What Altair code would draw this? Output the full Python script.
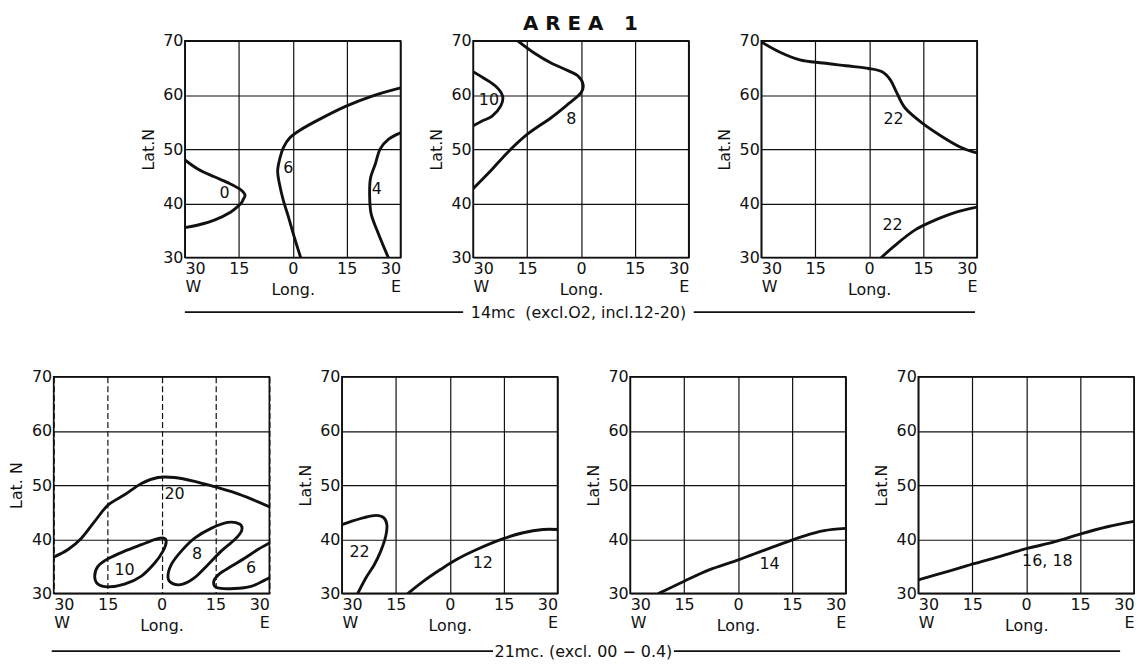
import altair as alt
import pandas as pd

FONT = "DejaVu Sans"
W, H = 217, 218
INK = "#111111"

# ---------------- Panel 1 (14mc) ----------------
p1_zero_lon = [-30, -26.3, -21.8, -17.7, -14.9, -13.3, -13.8, -14.5, -17.2, -21.8, -26.3, -30]
p1_zero_lat = [48.0, 46.3, 44.9, 43.7, 42.7, 41.6, 40.7, 39.9, 38.4, 36.9, 36.0, 35.5]
p1_six_lon = [30, 22.1, 14.7, 7.4, 2.0, -0.8, -2.6, -3.5, -4.2, -3.7, -2.6, -1.2, 0.1, 1.1, 2.2]
p1_six_lat = [61.3, 59.8, 57.9, 55.5, 53.5, 52.1, 50.3, 48.5, 46.0, 43.6, 40.5, 37.5, 34.5, 32.3, 30.0]
p1_four_lon = [30, 26.6, 24.3, 23.0, 21.6, 21.4, 21.8, 23.4, 25.3, 26.6]
p1_four_lat = [53.0, 51.8, 50.0, 47.3, 44.5, 41.2, 38.1, 35.1, 32.0, 30.0]
p1_lbl_text = ["0", "6", "4"]
p1_lbl_lon = [-19.0, -1.2, 23.4]
p1_lbl_lat = [41.9, 46.6, 42.7]

# ---------------- Panel 2 ----------------
p2_ten_lon = [-30, -27.0, -23.7, -21.8, -22.3, -24.7, -27.5, -30]
p2_ten_lat = [64.3, 63.1, 61.6, 59.8, 58.0, 56.1, 55.2, 54.3]
p2_eight_lon = [-17.6, -12.9, -8.3, -3.6, -0.8, 0.6, 0.0, -3.6, -8.3, -14.8, -20.4, -25.1, -30]
p2_eight_lat = [70.0, 67.7, 65.9, 64.5, 63.5, 61.9, 60.4, 58.3, 55.8, 52.8, 49.4, 46.0, 42.7]
p2_lbl_text = ["10", "8"]
p2_lbl_lon = [-25.6, -2.7]
p2_lbl_lat = [59.1, 55.5]

# ---------------- Panel 3 ----------------
p3_upper_lon = [-30, -24.8, -19.3, -12.9, -6.5, -0.1, 3.6, 5.9, 7.7, 10.0, 14.6, 20.1, 25.6, 30]
p3_upper_lat = [69.8, 67.9, 66.5, 65.9, 65.4, 64.9, 64.3, 62.8, 60.4, 57.6, 54.9, 52.4, 50.3, 49.3]
p3_lower_lon = [3.4, 7.3, 12.8, 18.3, 23.8, 30]
p3_lower_lat = [30.0, 32.3, 35.1, 36.9, 38.3, 39.3]
p3_lbl_text = ["22", "22"]
p3_lbl_lon = [6.8, 6.5]
p3_lbl_lat = [55.5, 35.9]

# ---------------- Panel 4 (21mc) ----------------
p4_twenty_lon = [-30, -26.0, -22.3, -18.6, -14.9, -10.3, -5.6, -1.0, 3.6, 9.2, 14.7, 20.3, 25.8, 30]
p4_twenty_lat = [36.7, 38.1, 40.2, 43.3, 46.3, 48.2, 50.3, 51.4, 51.4, 50.7, 49.7, 48.6, 47.2, 46.0]
p4_ten_lon = [-18.6, -17.7, -14.9, -10.3, -5.6, -1.5, 0.6, 1.3, 0.4, -1.9, -5.6, -10.3, -14.9, -17.7]
p4_ten_lat = [33.2, 35.0, 36.4, 37.8, 39.0, 40.0, 40.2, 39.5, 37.8, 35.6, 33.2, 31.7, 31.2, 31.7]
p4_eight_lon = [1.8, 2.7, 5.5, 9.2, 13.8, 18.4, 21.7, 22.3, 20.3, 16.6, 12.9, 9.2, 5.9, 3.1]
p4_eight_lat = [32.9, 35.3, 37.8, 40.2, 42.0, 43.1, 42.8, 41.6, 39.9, 37.8, 35.3, 32.9, 31.7, 31.8]
p4_six_lon = [30, 26.8, 23.1, 19.4, 16.1, 14.5, 15.6, 20.3, 24.9, 28.6, 30]
p4_six_lat = [39.3, 38.1, 36.5, 35.0, 33.6, 32.1, 31.0, 30.9, 31.3, 32.4, 32.9]
p4_lbl_text = ["20", "10", "8", "6"]
p4_lbl_lon = [3.6, -10.3, 9.9, 24.9]
p4_lbl_lat = [48.3, 34.3, 37.3, 34.6]

# ---------------- Panel 5 ----------------
p5_22_lon = [-30, -27.4, -23.8, -20.5, -18.4, -17.5, -17.8, -19.2, -21.0, -23.3, -25.6]
p5_22_lat = [42.7, 43.3, 44.0, 44.4, 44.0, 42.7, 40.6, 37.8, 35.3, 32.9, 30.0]
p5_12_lon = [-11.6, -7.2, -2.6, 2.0, 7.5, 14.9, 20.4, 25.9, 30]
p5_12_lat = [30.0, 32.3, 34.4, 36.3, 38.1, 40.1, 41.2, 41.8, 41.8]
p5_lbl_text = ["22", "12"]
p5_lbl_lon = [-25.1, 9.2]
p5_lbl_lat = [37.7, 35.6]

# ---------------- Panel 6 ----------------
p6_14_lon = [-22.0, -15.1, -8.2, 0.1, 7.4, 14.8, 19.4, 24.0, 30]
p6_14_lat = [30.0, 32.2, 34.3, 36.2, 38.0, 39.8, 40.8, 41.6, 42.0]
p6_lbl_text = ["14"]
p6_lbl_lon = [8.8]
p6_lbl_lat = [35.4]

# ---------------- Panel 7 ----------------
p7_1618_lon = [-30, -21.0, -14.5, -8.0, 0.3, 7.8, 15.2, 22.6, 30]
p7_1618_lat = [32.5, 34.2, 35.5, 36.7, 38.3, 39.5, 41.0, 42.3, 43.3]
p7_lbl_text = ["16, 18"]
p7_lbl_lon = [5.9]
p7_lbl_lat = [36.0]

lon_ticks = [-30, -15, 0, 15, 30]
lat_ticks = [30, 40, 50, 60, 70]

NB = "\u00a0"
TITLE_TEXT = NB.join(["A", "R", "E", "A", NB, "1"])
CAPTION_TOP = "14mc" + NB + NB + "(excl.O2, incl.12-20)"
CAPTION_BOTTOM = "21mc. (excl. 00 \u2212 0.4)"

LABEL_EXPR = ("datum.value == -30 ? ['30', 'W'] : datum.value == 30 ? ['30', 'E'] : "
              "format(abs(datum.value), 'd')")

LBL = 16


def x_enc(dashed):
    kw = dict(values=lon_ticks, labelExpr=LABEL_EXPR, title="Long.", titleX=W / 2,
              titleY=32, titleBaseline="middle", titleAlign="center",
              titleFontSize=LBL, titleFontWeight="normal", labelFontSize=LBL,
              labelLineHeight=18, labelPadding=3, labelOverlap=False, ticks=False,
              domain=False, grid=True, gridColor=INK, gridOpacity=1, gridWidth=1.2,
              labelColor=INK, titleColor=INK)
    if dashed:
        kw["gridDash"] = [6, 3]
    return alt.X("lon:Q", scale=alt.Scale(domain=[-30, 30], nice=False, zero=False),
                 axis=alt.Axis(**kw))


def y_enc(title):
    return alt.Y("lat:Q", scale=alt.Scale(domain=[30, 70], nice=False, zero=False),
                 axis=alt.Axis(values=lat_ticks, title=title, titleX=-37, titleY=H / 2,
                               titleAngle=270, titleBaseline="middle", titleAlign="center",
                               titleFontSize=LBL, titleFontWeight="normal", labelFontSize=LBL,
                               labelPadding=2, labelOverlap=False, ticks=False, domain=False,
                               grid=True, gridColor=INK, gridOpacity=1, gridWidth=1.2,
                               labelColor=INK, titleColor=INK))


def to_df(curves):
    rows = []
    for cid, (lons, lats) in enumerate(curves):
        for i, (a, b) in enumerate(zip(lons, lats)):
            rows.append({"cid": cid, "i": i, "lon": a, "lat": b})
    return pd.DataFrame(rows)


def panel(curves, loops, texts, lons, lats, ytitle, dashed=False, extras=()):
    xe, ye = x_enc(dashed), y_enc(ytitle)
    layers = []
    if curves:
        layers.append(alt.Chart(to_df(curves)).mark_line(
            interpolate="cardinal", color=INK, strokeWidth=2.9, clip=True,
            strokeCap="round", strokeJoin="round").encode(
            x=xe, y=ye, detail="cid:N", order="i:Q"))
    if loops:
        layers.append(alt.Chart(to_df(loops)).mark_line(
            interpolate="cardinal-closed", color=INK, strokeWidth=2.9, clip=True,
            strokeJoin="round").encode(x=xe, y=ye, detail="cid:N", order="i:Q"))
    lbl = pd.DataFrame({"t": texts, "lon": lons, "lat": lats})
    layers.append(alt.Chart(lbl).mark_text(font=FONT, fontSize=LBL, color=INK).encode(
        x=xe, y=ye, text="t:N"))
    layers.extend(extras)
    return alt.layer(*layers).properties(width=W, height=H)


one = pd.DataFrame({"k": [0]})


def txt(s, x, y, size, weight="normal"):
    return alt.Chart(pd.DataFrame({"t": [s]})).mark_text(
        font=FONT, fontSize=size, fontWeight=weight, color=INK, baseline="middle",
        align="center").encode(x=alt.value(x), y=alt.value(y), text="t:N")


def seg(x1, x2, y):
    return alt.Chart(one).mark_rule(color=INK, strokeWidth=1.7).encode(
        x=alt.value(x1), x2=alt.value(x2), y=alt.value(y))


p1 = panel([(p1_zero_lon, p1_zero_lat), (p1_six_lon, p1_six_lat), (p1_four_lon, p1_four_lat)],
           [], p1_lbl_text, p1_lbl_lon, p1_lbl_lat, "Lat.N")
p2 = panel([(p2_ten_lon, p2_ten_lat), (p2_eight_lon, p2_eight_lat)], [],
           p2_lbl_text, p2_lbl_lon, p2_lbl_lat, "Lat.N",
           extras=[txt(TITLE_TEXT, 108, -17, 20, "bold"),
                   txt(CAPTION_TOP, 106, 274, 16),
                   seg(-290, -10, 273), seg(222, 505, 273)])
p3 = panel([(p3_upper_lon, p3_upper_lat), (p3_lower_lon, p3_lower_lat)], [],
           p3_lbl_text, p3_lbl_lon, p3_lbl_lat, "Lat.N")
p4 = panel([(p4_twenty_lon, p4_twenty_lat), (p4_six_lon, p4_six_lat)],
           [(p4_ten_lon, p4_ten_lat), (p4_eight_lon, p4_eight_lat)],
           p4_lbl_text, p4_lbl_lon, p4_lbl_lat, "Lat. N", dashed=True)
p5 = panel([(p5_22_lon, p5_22_lat), (p5_12_lon, p5_12_lat)], [],
           p5_lbl_text, p5_lbl_lon, p5_lbl_lat, "Lat.N",
           extras=[txt(CAPTION_BOTTOM, 243, 277, 16),
                   seg(-292, 152, 276), seg(334, 783, 276)])
p6 = panel([(p6_14_lon, p6_14_lat)], [], p6_lbl_text, p6_lbl_lon, p6_lbl_lat, "Lat.N")
p7 = panel([(p7_1618_lon, p7_1618_lat)], [], p7_lbl_text, p7_lbl_lon, p7_lbl_lat, "Lat.N")

spacer = alt.Chart(one).mark_point(opacity=0).encode(
    x=alt.X("k:Q", axis=None), y=alt.Y("k:Q", axis=None)
).properties(width=59, height=H, view=alt.ViewBackground(strokeOpacity=0))

top = alt.hconcat(spacer, p1, p2, p3, spacing=73, bounds="flush")
bottom = alt.hconcat(p4, p5, p6, p7, spacing=73, bounds="flush")

# nested flush rows contribute no height of their own, so the row gap includes the panel height
chart = alt.vconcat(top, bottom, spacing=H + 120, bounds="flush").properties(
    padding={"left": 0, "top": 3, "right": 0, "bottom": 0},
    background="white",
).configure(font=FONT).configure_view(stroke=INK, strokeWidth=1.7)

chart.save("out.html", embed_options={"renderer": "svg", "actions": False})
